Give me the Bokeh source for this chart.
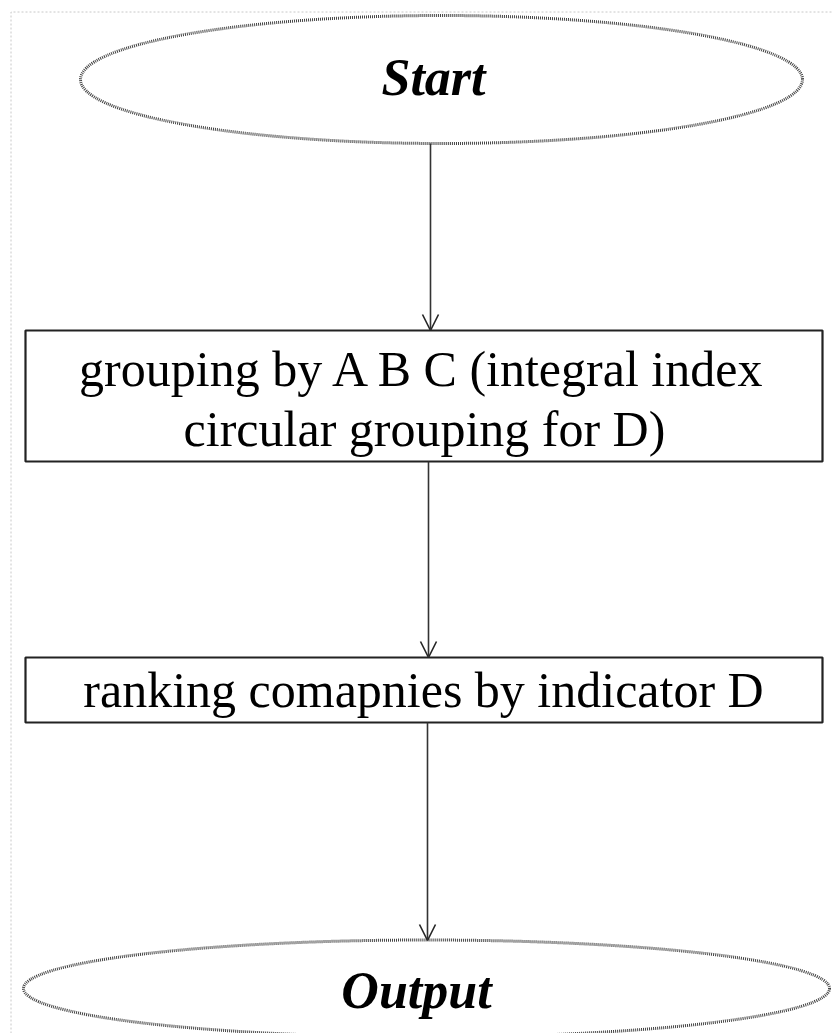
from bokeh.plotting import figure
from bokeh.models import Range1d, Arrow, OpenHead
from bokeh.core.properties import value
from bokeh.embed import file_html
from bokeh.resources import INLINE

# ---- data (flowchart nodes and edges) ----
ellipse_labels = ["Start", "Output"]
ellipse_cx = [441, 426]
ellipse_cy = [79, 988]
ellipse_w = [722, 806]
ellipse_h = [128, 97]
ellipse_text_x = [433, 416]
ellipse_text_y = [77, 990]

box_left = [25, 25]
box_right = [822, 822]
box_top = [330, 657]
box_bottom = [461, 722]

box_lines = ["grouping by A B C (integral index", "circular grouping for D)", "ranking comapnies by indicator D"]
box_line_x = [423, 424, 423]
box_line_y = [368, 428, 689]

arrow_x = [430, 428, 427]
arrow_y0 = [143, 461, 722]
arrow_y1 = [330, 657, 940]

W, H = 832, 1033
p = figure(width=W, height=H, output_backend="svg", toolbar_location=None,
           x_range=Range1d(0, W), y_range=Range1d(H, 0),
           min_border=0, outline_line_color=None, background_fill_color="white",
           border_fill_color="white")
p.axis.visible = False
p.grid.visible = False

# light dotted page frame
p.line(x=[10.5, 10.5, 832], y=[1033, 11.5, 11.5], line_color="#c8c8c8", line_width=1, line_dash="2 2")

# ellipses
p.ellipse(x=ellipse_cx, y=ellipse_cy, width=ellipse_w, height=ellipse_h,
          fill_color="white", line_color="#444444", line_width=3, line_dash="1 1")

# boxes
p.quad(left=box_left, right=box_right, top=box_top, bottom=box_bottom,
       fill_color="white", line_color="#222222", line_width=2.2)

# arrows
for x, y0, y1 in zip(arrow_x, arrow_y0, arrow_y1):
    p.add_layout(Arrow(x_start=x, y_start=y0, x_end=x, y_end=y1,
                       line_color="#333333", line_width=1.6,
                       end=OpenHead(size=16, line_color="#222222", line_width=1.6)))

# texts
p.text(x=ellipse_text_x, y=ellipse_text_y, text=ellipse_labels,
       text_font=value("Liberation Serif"), text_font_style="bold italic",
       text_font_size="52px", text_align="center", text_baseline="middle",
       text_color="black")
p.text(x=box_line_x, y=box_line_y, text=box_lines,
       text_font=value("Liberation Serif"), text_font_size="50px",
       text_align="center", text_baseline="middle", text_color="black")

open("out.html", "w").write(file_html(p, INLINE))
